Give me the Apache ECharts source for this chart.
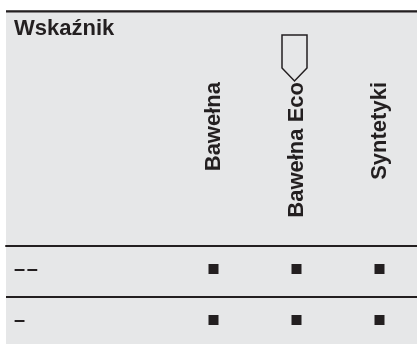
<!DOCTYPE html>
<html><head><meta charset="utf-8">
<script src="https://cdn.jsdelivr.net/npm/echarts@6/dist/echarts.min.js"></script>
<style>html,body{margin:0;padding:0;background:#fff}#c{width:417px;height:344px}</style>
</head><body><div id="c"></div>
<script>
// header of the first column
const headerLabel = 'Wskaźnik';
// column categories (first two slots belong to the header column)
const columns = ['', '', 'Bawełna', 'Bawełna Eco', 'Syntetyki'];
// row labels
const rows = ['––', '–'];
// 1 = marked cell, per row, for Bawełna / Bawełna Eco / Syntetyki
const row1Marks = [1, 1, 1];
const row2Marks = [1, 1, 1];

const ink = '#231f20';
const font = "'Liberation Sans', Arial, sans-serif";
const markRows = [row1Marks, row2Marks];
const points = [];
markRows.forEach((vals, r) => {
  vals.forEach((v, c) => { if (v) points.push([columns[c + 2], rows[r]]); });
});

const chart = echarts.init(document.getElementById('c'));
chart.setOption({
  backgroundColor: '#e6e7e8',
  animation: false,
  title: {
    text: headerLabel, left: 14, top: 18, padding: 0,
    textStyle: { fontSize: 22, fontWeight: 'bold', color: ink, fontFamily: font }
  },
  graphic: [
    { type: 'rect', shape: { x: 0, y: 0, width: 417, height: 10 }, style: { fill: '#fff' } },
    { type: 'rect', shape: { x: 0, y: 0, width: 6, height: 344 }, style: { fill: '#fff' } },
    { type: 'line', shape: { x1: 6, y1: 11.3, x2: 417, y2: 11.3 }, style: { stroke: ink, lineWidth: 2.2 } },
    { type: 'polygon', shape: { points: [[282, 35], [307, 35], [307, 68], [294.5, 81], [282, 68]] },
      style: { fill: 'none', stroke: ink, lineWidth: 1.5 } }
  ],
  grid: { left: 6, width: 415, top: 246, height: 102, containLabel: false, outerBoundsMode: 'none' },
  xAxis: {
    type: 'category', data: columns, position: 'top',
    axisLine: { show: true, lineStyle: { color: ink, width: 2 } },
    axisTick: { show: false },
    splitLine: { show: false },
    axisLabel: {
      interval: 0, rotate: -90, margin: 164, align: 'right', verticalAlign: 'middle',
      fontSize: 22, fontWeight: 'bold', color: ink, fontFamily: font
    }
  },
  yAxis: {
    type: 'category', data: rows, inverse: true,
    axisLine: { show: false }, axisTick: { show: false },
    splitLine: { show: true, interval: 0, lineStyle: { color: ink, width: 2 } },
    axisLabel: {
      inside: true, margin: 8, interval: 0, fontSize: 20, fontWeight: 'bold', color: ink, fontFamily: font,
      formatter: v => '{d|' + v.split('').join('\u200a') + '}',
      rich: { d: { fontSize: 20, fontWeight: 'bold', color: ink, fontFamily: font, padding: [0, 0, 5, 0] } }
    }
  },
  series: [{
    type: 'scatter', data: points, symbol: 'rect', symbolSize: 10, symbolOffset: [0, -2.5],
    itemStyle: { color: ink, opacity: 1 }
  }]
});
</script></body></html>
